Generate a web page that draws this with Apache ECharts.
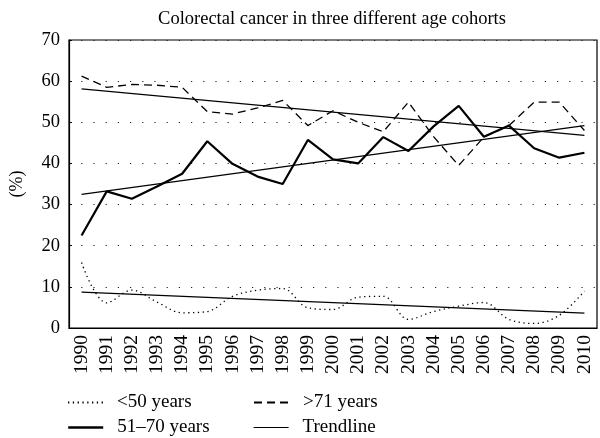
<!DOCTYPE html>
<html>
<head>
<meta charset="utf-8">
<script src="https://cdn.jsdelivr.net/npm/echarts@6/dist/echarts.min.js"></script>
<style>html,body{margin:0;padding:0;background:#fff}#c{width:600px;height:438px}</style>
</head>
<body>
<div id="c"></div>
<script>
var years = ['1990','1991','1992','1993','1994','1995','1996','1997','1998','1999','2000','2001','2002','2003','2004','2005','2006','2007','2008','2009','2010'];
var under50 = [15.9, 6.1, 9.2, 6.3, 3.7, 4.0, 7.7, 9.2, 9.6, 4.9, 4.5, 7.5, 7.7, 2.1, 4.0, 5.3, 6.2, 2.1, 1.1, 3.1, 9.0];
var age51to70 = [22.5, 33.2, 31.4, 34.4, 37.5, 45.4, 39.9, 36.8, 35.0, 45.7, 41.0, 40.0, 46.4, 43.0, 49.0, 54.0, 46.5, 49.2, 43.7, 41.4, 42.6];
var over71 = [61.2, 58.5, 59.2, 59.0, 58.5, 52.6, 52.0, 53.5, 55.3, 49.2, 52.8, 50.0, 47.7, 54.9, 46.5, 39.5, 46.4, 49.2, 54.9, 54.9, 48.0];
// Trendline end values (1990, 2010)
var trendUnder50 = [8.7, 3.6];
var trend51to70 = [32.5, 49.2];
var trendOver71 = [58.1, 46.8];
var yTicks = [0, 10, 20, 30, 40, 50, 60, 70];

function trendData(ends) {
  var d = years.map(function(){ return null; });
  d[0] = ends[0];
  d[years.length - 1] = ends[1];
  return d;
}

var FONT = '"Liberation Serif", "DejaVu Serif", serif';
var chart = echarts.init(document.getElementById('c'), null, {renderer: 'canvas'});

function legendItem(name, left, top, lw) {
  var item = {name: name, itemStyle: {color: 'transparent', borderColor: 'transparent', borderWidth: 0}};
  if (lw) item.lineStyle = {width: lw};
  return {
    data: [item],
    left: left, top: top, itemWidth: 35, itemHeight: 10, selectedMode: false,
    textStyle: {fontFamily: FONT, fontSize: 19, color: '#000', padding: [0, 0, 0, 9]}
  };
}

chart.setOption({
  animation: false,
  backgroundColor: '#fff',
  title: {
    text: 'Colorectal cancer in three different age cohorts',
    left: 327, top: 5, textAlign: 'center',
    textStyle: {fontFamily: FONT, fontSize: 18.5, fontWeight: 'normal', color: '#000'}
  },
  legend: [
    legendItem('<50 years', 62, 388),
    legendItem('>71 years', 248, 388),
    legendItem('51–70 years', 62, 413, 2.4),
    legendItem('Trendline', 248, 413, 1.2)
  ],
  grid: {left: 67, right: 3, top: 40, bottom: 110, show: true, borderColor: '#000', borderWidth: 1.2, containLabel: false},
  xAxis: {
    type: 'category', data: years, boundaryGap: true,
    axisLine: {show: true, lineStyle: {color: '#000', width: 1.2}},
    axisTick: {show: false},
    axisLabel: {rotate: 90, fontFamily: FONT, fontSize: 19.5, color: '#000', margin: 7, interval: 0}
  },
  yAxis: {
    type: 'value', min: yTicks[0], max: yTicks[yTicks.length - 1], interval: 10,
    name: '(%)', nameLocation: 'middle', nameGap: 43, nameRotate: 90,
    nameTextStyle: {fontFamily: FONT, fontSize: 18, color: '#000'},
    axisLine: {show: true, lineStyle: {color: '#000', width: 1.2}},
    axisTick: {show: true, inside: true, length: 3, lineStyle: {color: '#000'}},
    axisLabel: {fontFamily: FONT, fontSize: 18.5, color: '#000', margin: 9},
    splitLine: {show: true, lineStyle: {color: '#222', width: 1.2, type: [1.2, 11]}}
  },
  series: [
    {name: '<50 years', type: 'line', data: under50, symbol: 'none', smooth: 0.35,
     lineStyle: {color: '#000', width: 1.3, type: [1.3, 3.5]}, itemStyle: {color: '#000'}},
    {name: '>71 years', type: 'line', data: over71, symbol: 'none',
     lineStyle: {color: '#000', width: 1.3, type: [8, 5]}, itemStyle: {color: '#000'}},
    {name: '51–70 years', type: 'line', data: age51to70, symbol: 'none',
     lineStyle: {color: '#000', width: 2.2}, itemStyle: {color: '#000'}},
    {name: 'Trendline', type: 'line', data: trendData(trendUnder50), connectNulls: true, symbol: 'none',
     lineStyle: {color: '#000', width: 1.2}, itemStyle: {color: '#000'}},
    {name: 'Trendline', type: 'line', data: trendData(trend51to70), connectNulls: true, symbol: 'none',
     lineStyle: {color: '#000', width: 1.2}, itemStyle: {color: '#000'}},
    {name: 'Trendline', type: 'line', data: trendData(trendOver71), connectNulls: true, symbol: 'none',
     lineStyle: {color: '#000', width: 1.2}, itemStyle: {color: '#000'}}
  ]
});
</script>
</body>
</html>
